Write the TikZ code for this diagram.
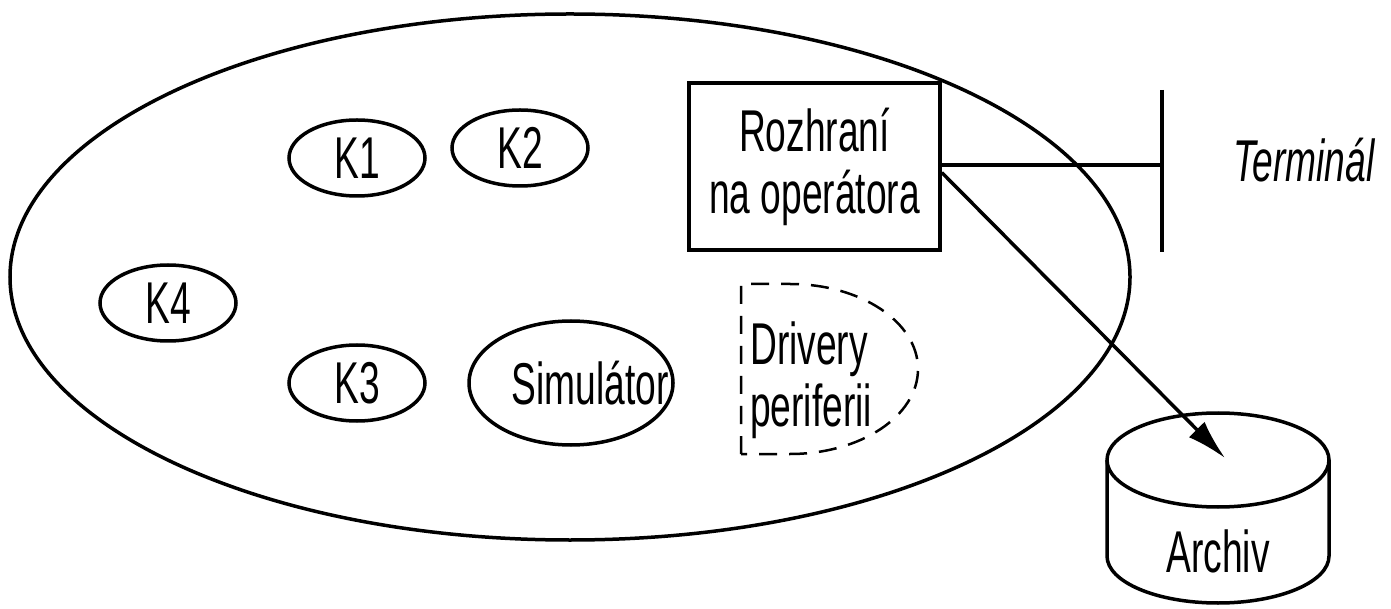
\documentclass[tikz,border=0pt]{standalone}
\usepackage{fontspec}
\setmainfont{Liberation Sans}[FakeStretch=0.63]
\usetikzlibrary{shapes.geometric,arrows.meta}
\begin{document}
\begin{tikzpicture}[x=1pt,y=1pt,
  every node/.style={font=\fontsize{59}{62}\selectfont},
  line/.style={line width=3.5pt},
  kel/.style={ellipse,draw,line width=3.5pt,inner sep=0pt,minimum width=136pt,minimum height=76pt},
  dsh/.style={line width=2.5pt,dash pattern=on 18pt off 12pt}]
\useasboundingbox (0,0) rectangle (1391,608);
\node[ellipse,draw,line width=3.5pt,minimum width=1120pt,minimum height=526pt,inner sep=0pt] (sys) at (570,331) {};
\node[kel] (k1) at (357,450) {K1};
\node[kel] (k2) at (520,460) {K2};
\node[kel] (k4) at (168,305) {K4};
\node[kel] (k3) at (357,225) {K3};
\node[kel,minimum width=204pt,minimum height=124pt] (sim) at (571,225) {};
\node[inner sep=0pt] (simt) at (590,225) {Simulátor};
\draw[dsh] (741,154) -- (741,324) -- (790,324) arc[start angle=90,end angle=-90,x radius=128,y radius=85] -- cycle;
\node[anchor=west,align=left,inner sep=0pt] (drv) at (750,228) {Drivery\\periferii};
\node[draw,line width=3.5pt,minimum width=251pt,minimum height=167pt,inner sep=0pt,align=center] (rozh) at (814.5,441.5) {Rozhraní\\na operátora};
\coordinate (tb1) at (1162,518);
\coordinate (tb2) at (1162,356);
\coordinate (tmid) at (1162,443);
\draw[line] (tb1) -- (tb2);
\draw[line] (rozh.east |- tmid) -- (tmid);
\node[anchor=base west,inner sep=0pt] (term) at (1233,426) {\itshape Terminál};
% Archiv cylinder
\draw[line] (1218,148) ellipse[x radius=111,y radius=47];
\draw[line] (1107,148) -- (1107,52) arc[start angle=180,end angle=360,x radius=111,y radius=47] -- (1329,148);
\node[anchor=base,inner sep=0pt] (arch) at (1218,36) {Archiv};
\coordinate (tip) at (1225,150);
\draw[line,-{Latex[length=40pt,width=22pt]}] ([yshift=-6pt]rozh.east) -- (tip);
\end{tikzpicture}
\end{document}
